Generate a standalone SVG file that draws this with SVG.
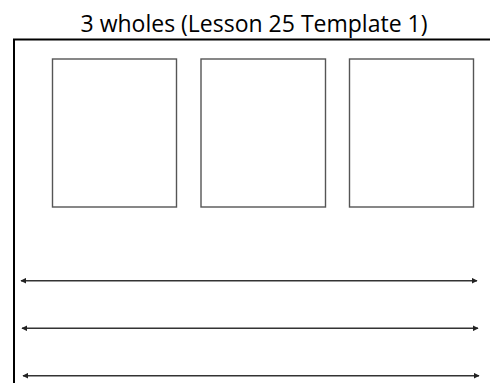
<svg xmlns="http://www.w3.org/2000/svg" width="490" height="383" viewBox="0 0 490 383">
<style>
.title{font-family:"Open Sans","Liberation Sans",sans-serif;font-size:23px;fill:#000}
.frame{fill:none;stroke:#000;stroke-width:2}
.box{fill:#fff;stroke:#555;stroke-width:1.4}
.arr{fill:none;stroke:#333;stroke-width:1.6;marker-start:url(#ah);marker-end:url(#ah)}
</style>
<defs>
<marker id="ah" viewBox="0 0 10 10" refX="9" refY="5" markerWidth="6" markerHeight="6" orient="auto-start-reverse" markerUnits="userSpaceOnUse">
<path d="M0,0 L10,5 L0,10 z" fill="#222"/>
</marker>
</defs>
<rect width="490" height="383" fill="#fff"/>
<text class="title" x="254" y="32" text-anchor="middle">3 wholes (Lesson 25 Template 1)</text>
<path class="frame" d="M14,383 V39.5 H490"/>
<g id="box1"><rect class="box" x="52.5" y="59" width="124" height="148"/></g>
<g id="box2"><rect class="box" x="201" y="59" width="124.5" height="148"/></g>
<g id="box3"><rect class="box" x="349.5" y="59" width="124" height="148"/></g>
<g id="connectors">
<line class="arr" x1="21" y1="280.7" x2="477" y2="280.7"/>
<line class="arr" x1="22" y1="328.3" x2="478" y2="328.3"/>
<line class="arr" x1="23" y1="375.7" x2="479" y2="375.7"/>
</g>
</svg>
